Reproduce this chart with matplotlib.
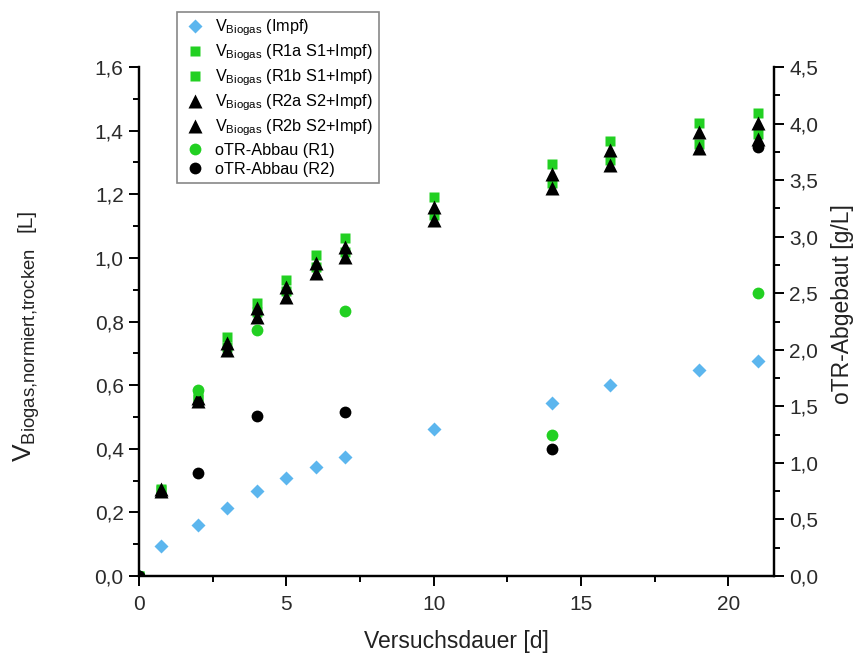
import matplotlib
matplotlib.use("Agg")
import matplotlib.pyplot as plt
from matplotlib.ticker import MultipleLocator, FuncFormatter

plt.rcParams['font.family'] = ['Liberation Sans', 'DejaVu Sans']
plt.rcParams['mathtext.fontset'] = 'custom'
plt.rcParams['mathtext.rm'] = 'Liberation Sans'
plt.rcParams['mathtext.it'] = 'Liberation Sans:italic'

# Data
days = [0, 0.75, 2, 3, 4, 5, 6, 7, 10, 14, 16, 19, 21]
v_impf = [0, 0.094, 0.160, 0.214, 0.267, 0.308, 0.343, 0.374, 0.462, 0.544, 0.600, 0.648, 0.676]
v_r1a = [0, 0.275, 0.565, 0.751, 0.858, 0.930, 1.009, 1.062, 1.191, 1.295, 1.368, 1.424, 1.456]
v_r1b = [0, 0.270, 0.555, 0.720, 0.830, 0.895, 0.970, 1.020, 1.135, 1.235, 1.308, 1.358, 1.390]
v_r2a = [0, 0.272, 0.560, 0.733, 0.843, 0.909, 0.984, 1.034, 1.160, 1.264, 1.339, 1.396, 1.424]
v_r2b = [0, 0.268, 0.550, 0.711, 0.815, 0.877, 0.952, 1.003, 1.119, 1.220, 1.292, 1.345, 1.374]

otr_days = [0, 2, 4, 7, 14, 21]
otr_r1 = [0, 1.645, 2.175, 2.34, 1.247, 2.50]
otr_r2 = [0, 0.91, 1.415, 1.45, 1.12, 3.79]

labels = [r'$\mathrm{V}_{\mathrm{Biogas}}$ (Impf)',
          r'$\mathrm{V}_{\mathrm{Biogas}}$ (R1a S1+Impf)',
          r'$\mathrm{V}_{\mathrm{Biogas}}$ (R1b S1+Impf)',
          r'$\mathrm{V}_{\mathrm{Biogas}}$ (R2a S2+Impf)',
          r'$\mathrm{V}_{\mathrm{Biogas}}$ (R2b S2+Impf)',
          'oTR-Abbau (R1)', 'oTR-Abbau (R2)']

blue = '#5CB6EE'
green = '#22D022'
W, H = 856, 659

fig = plt.figure(figsize=(8.56, 6.59), dpi=100)
ax = fig.add_axes([139/W, 1-576/H, (774-139)/W, (576-67)/H])
ax2 = ax.twinx()

h1, = ax.plot(days, v_impf, 'D', color=blue, ms=7.2, mec='none', label=labels[0])
h2, = ax.plot(days, v_r1a, 's', color=green, ms=7, mec='none', label=labels[1])
h3, = ax.plot(days, v_r1b, 's', color=green, ms=7, mec='none', label=labels[2])
h4, = ax.plot(days, v_r2a, '^', color='black', ms=10, mec='none', label=labels[3])
h5, = ax.plot(days, v_r2b, '^', color='black', ms=10, mec='none', label=labels[4])
h6, = ax2.plot(otr_days, otr_r1, 'o', color=green, ms=8.5, mec='none', label=labels[5])
h7, = ax2.plot(otr_days, otr_r2, 'o', color='black', ms=8.5, mec='none', label=labels[6])

ax.set_xlim(0, 21.55)
ax.set_ylim(0, 1.6)
ax2.set_ylim(0, 4.5)

ax.xaxis.set_major_locator(MultipleLocator(5))
ax.xaxis.set_minor_locator(MultipleLocator(2.5))
ax.yaxis.set_major_locator(MultipleLocator(0.2))
ax.yaxis.set_minor_locator(MultipleLocator(0.1))
ax2.yaxis.set_major_locator(MultipleLocator(0.5))
ax2.yaxis.set_minor_locator(MultipleLocator(0.25))

ax.yaxis.set_major_formatter(FuncFormatter(lambda v, p: f'{v:.1f}'.replace('.', ',')))
ax2.yaxis.set_major_formatter(FuncFormatter(lambda v, p: f'{v:.1f}'.replace('.', ',')))
ax.xaxis.set_major_formatter(FuncFormatter(lambda v, p: f'{v:.0f}'))

for a in (ax, ax2):
    a.spines['top'].set_visible(False)
    for s in a.spines.values():
        s.set_linewidth(1.6)
    a.tick_params(which='major', direction='out', length=7, width=1.4, labelsize=15,
                  colors='black', labelcolor='#2a2a2a')
    a.tick_params(which='minor', direction='out', length=4, width=1.4)
ax.tick_params(axis='x', pad=7)
ax.tick_params(axis='y', pad=4)
ax2.tick_params(axis='y', pad=4)

ax.set_xlabel('Versuchsdauer [d]', fontsize=16.5, labelpad=11, color='#222222')

# left y label: big V with small subscript, then [L]
fig.text(27/W, 1-462/H, r'$\mathrm{V}_{\mathrm{Biogas{,}normiert{,}trocken}}$', rotation=90,
         fontsize=19, ha='center', va='bottom', color='#222222')
fig.text(26/W, 1-209/H, '[L]', rotation=90, fontsize=15, ha='center', va='top',
         color='#222222')
# right y label
fig.text(843/W, 1-304/H, 'oTR-Abgebaut [g/L]', rotation=90, fontsize=16.5,
         ha='center', va='center', color='#222222')

leg = ax2.legend(handles=[h1, h2, h3, h4, h5, h6, h7], loc='upper left',
                 bbox_to_anchor=(177/W, 1-12/H), bbox_transform=fig.transFigure,
                 borderaxespad=0, fancybox=False, edgecolor='#888888', framealpha=1,
                 fontsize=11.7, handletextpad=0.5, handlelength=1.5, labelspacing=0.27,
                 borderpad=0.35)
leg.get_frame().set_linewidth(1.2)

fig.savefig('out.png', dpi=100)
